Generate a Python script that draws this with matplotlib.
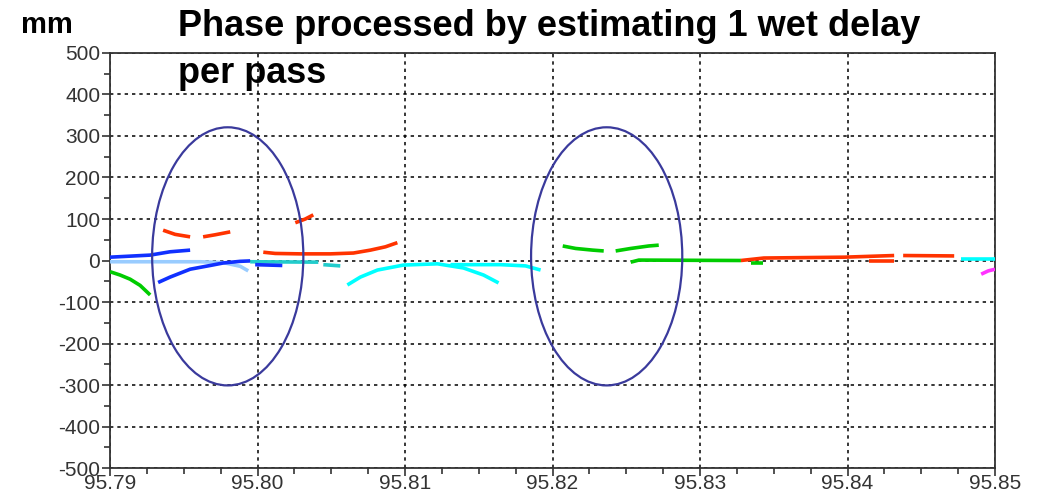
import matplotlib
matplotlib.use("Agg")
import matplotlib.pyplot as plt
from matplotlib.patches import Ellipse
from matplotlib.ticker import MultipleLocator

plt.rcParams['font.family'] = ['Liberation Sans', 'DejaVu Sans']
plt.rcParams['axes.unicode_minus'] = False

# ---- data (epoch in days, residual in mm) ----
green1_x = [95.79, 95.79068, 95.79136, 95.79204, 95.79272]
green1_y = [-27, -35, -45, -60, -83]

blue1_x = [95.79, 95.79272, 95.79407, 95.79543]
blue1_y = [8, 13, 21, 25]

lblue_x = [95.79, 95.79272, 95.79611, 95.79767, 95.79883, 95.79937]
lblue_y = [-3, -3, -3, -5, -14, -25]

blue2_x = [95.79326, 95.79407, 95.79543, 95.79679, 95.79767, 95.79883, 95.7995]
blue2_y = [-53, -40, -21, -12, -6, -2, -1]

blue3_x = [95.79984, 95.80168]
blue3_y = [-10, -12]

red1_x = [95.7936, 95.79441, 95.79543]
red1_y = [73, 63, 57]
red2_x = [95.79631, 95.79713, 95.79815]
red2_y = [57, 62, 69]
red3_x = [95.80256, 95.80324, 95.80378]
red3_y = [91, 100, 110]

teal1_x = [95.7995, 95.80412]
teal1_y = [-3, -4]
teal2_x = [95.80446, 95.80561]
teal2_y = [-10, -13]

red4_x = [95.80039, 95.8012, 95.8029, 95.80494, 95.8065, 95.80765, 95.80867, 95.80948]
red4_y = [20, 17, 16, 16, 18, 25, 33, 43]

aqua1_x = [95.80609, 95.80697, 95.80813, 95.80989, 95.8122, 95.81396, 95.81532, 95.81634]
aqua1_y = [-59, -40, -23, -11, -8, -18, -35, -54]
aqua2_x = [95.81308, 95.81648, 95.81817, 95.81919]
aqua2_y = [-10, -10, -13, -23]

green2_x = [95.82069, 95.82157, 95.82272, 95.82347]
green2_y = [35, 29, 25, 23]
green3_x = [95.82428, 95.8253, 95.82652, 95.8272]
green3_y = [23, 29, 35, 37]
green4_x = [95.8253, 95.82585, 95.83277]
green4_y = [-4, 1, 0]
green5_x = [95.83345, 95.83426]
green5_y = [-7, -7]

red5_x = [95.83277, 95.83433, 95.83976, 95.84316]
red5_y = [0, 6, 8, 12]
red6_x = [95.84146, 95.84316]
red6_y = [-2, -2]
red7_x = [95.84377, 95.84723]
red7_y = [12, 11]

cyan3_x = [95.8477, 95.85]
cyan3_y = [4, 4]
mag_x = [95.84906, 95.84954, 95.85]
mag_y = [-33, -25, -21]

ell_x = [95.79798, 95.82367]
ell_y = [10, 10]
ell_w = 0.01025
ell_h = 622

x_ticks = [95.79, 95.80, 95.81, 95.82, 95.83, 95.84, 95.85]
x_labels = ['95.79', '95.80', '95.81', '95.82', '95.83', '95.84', '95.85']
y_ticks = list(range(-500, 501, 100))
y_labels = [str(v) for v in y_ticks]

RED = '#ff3300'
BLUE = '#1030ff'
LBLUE = '#99ccff'
GREEN = '#00cc00'
AQUA = '#00ffff'
TEAL = '#22cccc'
MAG = '#ff33ff'

fig = plt.figure(figsize=(10.39, 4.93), dpi=100)
ax = fig.add_axes([0.1059, 0.0507, 0.8518, 0.8418])

lw = 2.6
series = [
    (lblue_x, lblue_y, LBLUE), (green1_x, green1_y, GREEN), (blue1_x, blue1_y, BLUE),
    (blue2_x, blue2_y, BLUE), (teal1_x, teal1_y, TEAL), (teal2_x, teal2_y, TEAL),
    (blue3_x, blue3_y, BLUE),
    (red1_x, red1_y, RED), (red2_x, red2_y, RED), (red3_x, red3_y, RED),
    (red4_x, red4_y, RED), (aqua1_x, aqua1_y, AQUA), (aqua2_x, aqua2_y, AQUA),
    (green2_x, green2_y, GREEN), (green3_x, green3_y, GREEN), (green4_x, green4_y, GREEN),
    (green5_x, green5_y, GREEN), (red5_x, red5_y, RED), (red6_x, red6_y, RED),
    (red7_x, red7_y, RED), (cyan3_x, cyan3_y, AQUA), (mag_x, mag_y, MAG),
]
for xs, ys, c in series:
    ax.plot(xs, ys, color=c, lw=lw, solid_capstyle='butt', zorder=3)

for cx, cy in zip(ell_x, ell_y):
    ax.add_patch(Ellipse((cx, cy), ell_w, ell_h, fill=False, edgecolor='#3a3a9c', lw=1.6, zorder=4))

ax.set_xlim(95.79, 95.85)
ax.set_ylim(-500, 500)
ax.set_xticks(x_ticks)
ax.set_xticklabels(x_labels)
ax.set_yticks(y_ticks)
ax.set_yticklabels(y_labels)
ax.xaxis.set_minor_locator(MultipleLocator(0.0025))
ax.yaxis.set_minor_locator(MultipleLocator(50))
ax.grid(True, which='major', color='black', linestyle=(0, (2.2, 2.6)), lw=1.1, zorder=1)
ax.tick_params(which='major', direction='out', length=6, width=1.2, labelsize=15, colors='#333333', pad=1)
ax.tick_params(which='minor', direction='out', length=4, width=1.2, colors='#333333')
ax.tick_params(axis='x', pad=-1.5)
for s in ax.spines.values():
    s.set_color('#333333')
    s.set_linewidth(1.3)

fig.text(0.0205, 0.933, 'mm', fontsize=21, fontweight='bold', ha='left', va='baseline')
fig.text(0.1713, 0.8316, 'Phase processed by estimating 1 wet delay\nper pass', fontsize=26,
         fontweight='bold', ha='left', va='baseline', linespacing=1.45, zorder=5)

fig.savefig('out.png', dpi=100)
